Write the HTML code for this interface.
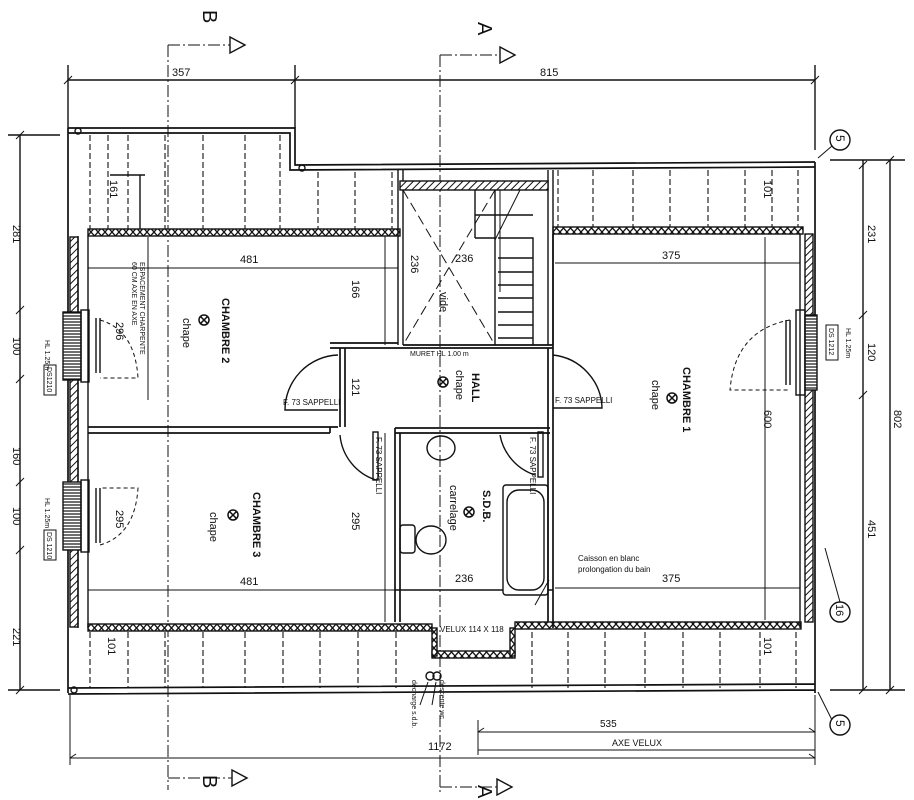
<!DOCTYPE html>
<html><head><meta charset="utf-8"><style>
html,body{margin:0;padding:0;background:#fff;}
svg{display:block;}
text{font-family:"Liberation Sans",sans-serif;fill:#111;}
</style></head><body>
<svg width="914" height="800" viewBox="0 0 914 800" xmlns="http://www.w3.org/2000/svg">
<defs>
<pattern id="hx" width="7" height="8" patternUnits="userSpaceOnUse"><rect width="7" height="8" fill="#fff"/><path d="M0 0L7 8M7 0L0 8" stroke="#111" stroke-width="1.3"/></pattern>
<pattern id="hd" width="5" height="5" patternUnits="userSpaceOnUse" patternTransform="rotate(45)"><rect width="5" height="5" fill="#fff"/><line x1="0" y1="0" x2="0" y2="5" stroke="#111" stroke-width="2"/></pattern>
<pattern id="win" width="3" height="3" patternUnits="userSpaceOnUse"><rect width="3" height="3" fill="#fff"/><line x1="0" y1="1" x2="3" y2="1" stroke="#111" stroke-width="1.2"/></pattern>
</defs>
<g stroke="#111" fill="none" stroke-width="1.4">
<g stroke-dasharray="12,3,2,3" stroke-width="1">
<path d="M168 45V790M168 45H230M168 778H232"/>
<path d="M440 55V795M440 55H500M440 787H497"/>
</g>
<path d="M230 37L245 45L230 53Z M500 47L515 55L500 63Z M232 770L247 778L232 786Z M497 779L512 787L497 795Z" fill="#fff"/>

<path d="M68 80H815M68 65V128M295 65V128M815 65V150"/>
<path d="M64 84L72 76M291 84L299 76M811 84L819 76" stroke-width="1"/>
<path d="M20 135V690M8 135H60M8 690H60"/>
<path d="M16 139L24 131M16 314L24 306M16 383L24 375M16 486L24 478M16 554L24 546M16 694L24 686" stroke-width="1"/>
<path d="M863 160V690M890 160V690M830 160H905M830 690H905"/>
<path d="M859 169L867 161M859 319L867 311M859 399L867 391M859 694L867 686M886 164L894 156M886 694L894 686" stroke-width="1"/>
<path d="M70 758H815M70 695V765M815 695V765M478 732H815M478 750H815M478 720V755M478 732L484 728M815 732L809 728M70 758L76 754M815 758L809 754" stroke-width="1"/>

<path d="M68 128H295V165L815 162M68 133H290V170L815 167" stroke-width="1.7"/>
<path d="M68 128V693M815 162V693M68 688L815 684M68 694L815 690" stroke-width="1.7"/>
<circle cx="78" cy="131" r="3"/><circle cx="302" cy="168" r="3"/><circle cx="74" cy="690" r="3"/>

<g stroke-dasharray="6,3" stroke-width="1.1">
<path d="M90 135V230M108 135V230M128 135V230M165 135V230M203 135V230M245 135V230M280 135V230M318 172V230M355 172V230M392 172V230"/>
<path d="M558 170V228M593 170V228M633 170V228M670 170V228M708 170V228M745 170V228M772 170V228M798 170V228"/>
<path d="M90 632V688M128 632V688M165 632V688M203 632V688M245 632V688M283 632V688M320 632V688M358 632V688M396 632V688"/>
<path d="M532 632V688M568 632V688M605 632V688M645 632V688M683 632V688M720 632V688M760 632V688M796 632V688"/>
</g>
<path d="M110 175H145M140 175V230"/>

<rect x="88" y="229" width="312" height="7" fill="url(#hx)"/>
<rect x="553" y="227" width="250" height="7" fill="url(#hx)"/>
<rect x="88" y="624" width="344" height="7" fill="url(#hx)"/>
<rect x="515" y="622" width="286" height="7" fill="url(#hx)"/>
<rect x="432" y="651" width="83" height="7" fill="url(#hx)"/>
<rect x="432" y="628" width="5" height="28" fill="url(#hx)"/>
<rect x="510" y="628" width="5" height="28" fill="url(#hx)"/>
<rect x="70" y="237" width="8" height="390" fill="url(#hd)"/>
<rect x="805" y="234" width="8" height="388" fill="url(#hd)"/>
<path d="M88 236V628M78 236V628M800 234V628"/>

<path d="M398 170V345M403 170V345M548 170V345M553 170V345"/>
<rect x="400" y="181" width="148" height="9" fill="url(#hd)"/>
<path d="M403 190L495 345M495 190L403 345" stroke-dasharray="10,5" stroke-width="1"/>
<path d="M475 190V238M495 190V345M475 215H533M475 238H495M498 238H533V345M498 258H533M498 272H533M498 285H533M498 298H533M498 312H533M498 325H533M498 338H533"/>
<path d="M520 190L495 240M500 190V292" stroke-width="1"/>
<path d="M330 343H398M330 348H553M403 345H553" stroke-width="1.7"/>
<path d="M88 427H338M88 433H330M330 427V433M340 348V427M345 348V427" stroke-width="1.7"/>
<path d="M395 428H550M395 433H550M395 428V622M400 433V622M548 348V622M553 234V628" stroke-width="1.7"/>
<path d="M395 590H503M548 590H553"/>
<path d="M338 355A55 55 0 0 0 285 410H338M553 355A55 55 0 0 1 602 408H553" />
<path d="M340 435A52 52 0 0 0 376 480M500 435A52 52 0 0 0 535 475" />
<rect x="373" y="432" width="5" height="48"/><rect x="538" y="432" width="5" height="45"/>
<rect x="63" y="312" width="18" height="68" fill="url(#win)"/><rect x="81" y="310" width="8" height="72"/><path d="M96 318V373M100 318V373"/>
<rect x="63" y="482" width="18" height="68" fill="url(#win)"/><rect x="81" y="480" width="8" height="72"/><path d="M96 488V543M100 488V543"/>
<rect x="805" y="315" width="12" height="75" fill="url(#win)"/><rect x="796" y="310" width="9" height="85"/><path d="M786 320V385M790 320V385"/>
<path d="M100 320Q135 330 138 378H100M100 545Q135 535 138 488H100M790 320Q735 330 730 390H790" stroke-dasharray="4,3" stroke-width="1"/>
<rect x="503" y="485" width="45" height="110" rx="3"/><rect x="507" y="490" width="37" height="100" rx="12"/>
<rect x="400" y="525" width="15" height="28" rx="3"/><ellipse cx="431" cy="540" rx="15" ry="14"/>
<ellipse cx="441" cy="448" rx="14" ry="12"/>
<path d="M88 268H398M555 263H800M88 590H395M555 588H800M765 237V620M385 236V345M385 433V622M148 237V400" stroke-width="1"/>
<circle cx="840" cy="140" r="10"/><circle cx="840" cy="725" r="10"/><circle cx="840" cy="612" r="10"/>
<path d="M832 146L818 158M832 720L818 692M840 602L825 548M549 580L535 605" stroke-width="1"/>
<circle cx="430" cy="676" r="4"/><circle cx="437" cy="676" r="4"/>
<path d="M420 705L428 682M432 705L436 682" stroke-width="1"/>
<g stroke-width="1.5">
<circle cx="204" cy="320" r="5"/><path d="M200 316L208 324M208 316L200 324"/>
<circle cx="233" cy="515" r="5"/><path d="M229 511L237 519M237 511L229 519"/>
<circle cx="443" cy="382" r="5"/><path d="M439 378L447 386M447 378L439 386"/>
<circle cx="469" cy="512" r="5"/><path d="M465 508L473 516M473 508L465 516"/>
<circle cx="672" cy="398" r="5"/><path d="M668 394L676 402M676 394L668 402"/>
</g>
</g>
<g font-size="11">
<text x="172" y="76">357</text><text x="540" y="76">815</text>
<text x="240" y="263">481</text><text x="662" y="259">375</text><text x="240" y="585">481</text><text x="662" y="582">375</text>
<text x="455" y="262">236</text><text x="455" y="582">236</text>
<text x="600" y="727" font-size="10">535</text><text x="612" y="746" font-size="9">AXE VELUX</text><text x="428" y="750">1172</text>
<text x="440" y="632" font-size="8">VELUX 114 X 118</text>
<text x="410" y="356" font-size="7">MURET HL 1.00 m</text>
<text x="578" y="561" font-size="8">Caisson en blanc</text><text x="578" y="572" font-size="8">prolongation du bain</text>
<text x="555" y="403" font-size="8">F. 73 SAPPELLI</text><text x="283" y="405" font-size="8">F. 73 SAPPELLI</text>
</g>
<g font-size="11">
<text transform="translate(13 225) rotate(90)">281</text>
<text transform="translate(13 337) rotate(90)">100</text>
<text transform="translate(13 447) rotate(90)">160</text>
<text transform="translate(13 507) rotate(90)">100</text>
<text transform="translate(13 628) rotate(90)">221</text>
<text transform="translate(868 225) rotate(90)">231</text>
<text transform="translate(868 343) rotate(90)">120</text>
<text transform="translate(868 520) rotate(90)">451</text>
<text transform="translate(894 410) rotate(90)">802</text>
<text transform="translate(110 180) rotate(90)">161</text>
<text transform="translate(108 637) rotate(90)">101</text>
<text transform="translate(764 180) rotate(90)">101</text>
<text transform="translate(764 637) rotate(90)">101</text>
<text transform="translate(352 280) rotate(90)">166</text>
<text transform="translate(352 378) rotate(90)">121</text>
<text transform="translate(352 512) rotate(90)">295</text>
<text transform="translate(764 410) rotate(90)">600</text>
<text transform="translate(411 255) rotate(90)">236</text>
<text transform="translate(440 292) rotate(90)">vide</text>
<text transform="translate(116 322) rotate(90)">296</text>
<text transform="translate(116 510) rotate(90)">295</text>
<text font-weight="bold" transform="translate(222 298) rotate(90)">CHAMBRE 2</text>
<text transform="translate(183 318) rotate(90)">chape</text>
<text font-weight="bold" transform="translate(253 492) rotate(90)">CHAMBRE 3</text>
<text transform="translate(210 512) rotate(90)">chape</text>
<text font-weight="bold" transform="translate(683 367) rotate(90)">CHAMBRE 1</text>
<text transform="translate(652 380) rotate(90)">chape</text>
<text font-weight="bold" transform="translate(472 373) rotate(90)">HALL</text>
<text transform="translate(456 370) rotate(90)">chape</text>
<text font-weight="bold" transform="translate(483 490) rotate(90)">S.D.B.</text>
<text transform="translate(450 485) rotate(90)">carrelage</text>
<text font-size="12" transform="translate(836 135) rotate(90)">5</text>
<text font-size="12" transform="translate(836 720) rotate(90)">5</text>
<text font-size="11" transform="translate(836 604) rotate(90)">16</text>
<text font-size="7" transform="translate(140 262) rotate(90)">ESPACEMENT CHARPENTE</text>
<text font-size="7" transform="translate(132 262) rotate(90)">60 CM AXE EN AXE</text>
<text font-size="8" transform="translate(376 437) rotate(90)">F. 73 SAPPELLI</text>
<text font-size="8" transform="translate(530 437) rotate(90)">F. 73 SAPPELLI</text>
<text font-size="7" transform="translate(412 680) rotate(90)">décharge s.d.b.</text>
<text font-size="7" transform="translate(440 680) rotate(90)">descente wc</text>
<text font-size="7" transform="translate(45 340) rotate(90)">HL 1.25m</text>
<text font-size="7" transform="translate(45 498) rotate(90)">HL 1.25m</text>
<text font-size="7" transform="translate(846 328) rotate(90)">HL 1.25m</text>
</g>
<g fill="none" stroke="#111"><rect x="44" y="365" width="12" height="30"/><rect x="44" y="530" width="12" height="30"/><rect x="826" y="325" width="12" height="35"/></g>
<g font-size="7"><text transform="translate(47 367) rotate(90)">DS1210</text><text transform="translate(47 532) rotate(90)">DS 1210</text><text transform="translate(829 328) rotate(90)">DS 1212</text></g>
<g font-size="20"><text transform="translate(203 10) rotate(90)">B</text><text transform="translate(478 22) rotate(90)">A</text><text transform="translate(203 775) rotate(90)">B</text><text transform="translate(478 785) rotate(90)">A</text></g>
</svg>
</body></html>
